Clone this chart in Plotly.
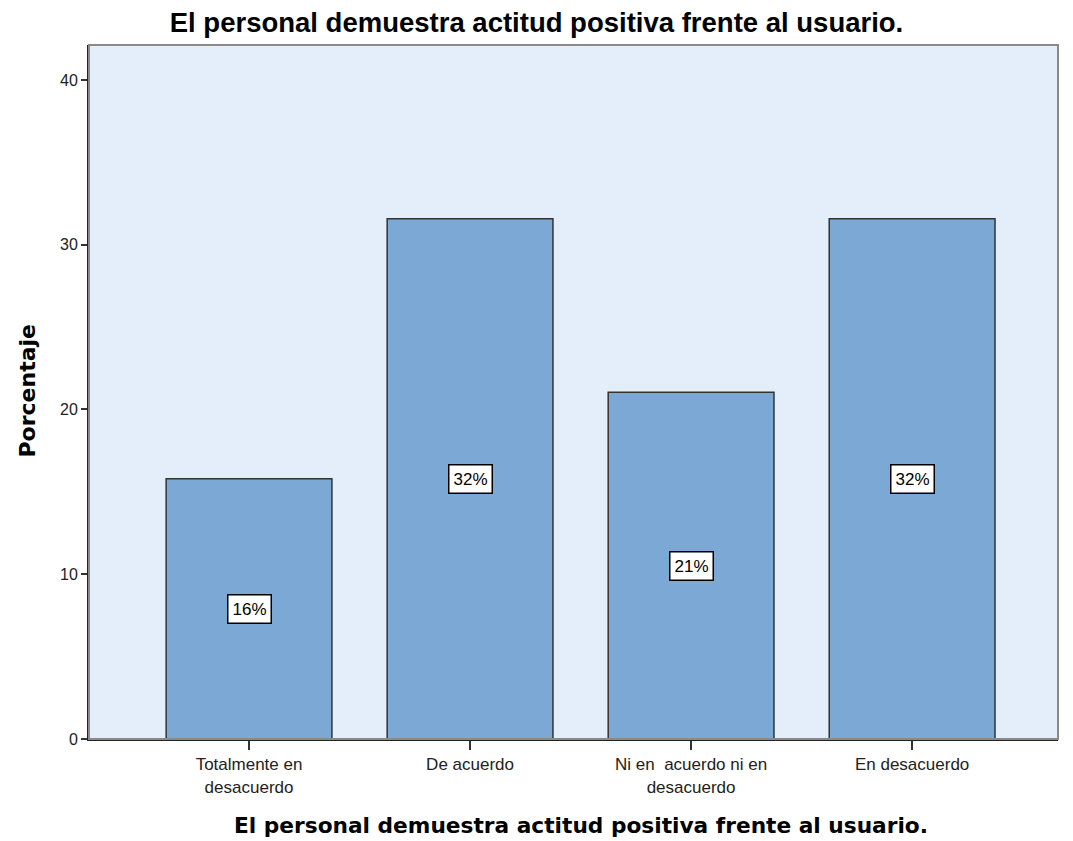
import plotly.graph_objects as go

# Response categories and their percentage of respondents
categories = [
    "Totalmente en<br>desacuerdo",
    "De acuerdo",
    "Ni en  acuerdo ni en<br>desacuerdo",
    "En desacuerdo",
]
percentages = [15.79, 31.58, 21.05, 31.58]
value_labels = ["16%", "32%", "21%", "32%"]
y_ticks = [0, 10, 20, 30, 40]

title_text = "El personal demuestra actitud positiva frente al usuario."

fig = go.Figure()
fig.add_trace(go.Bar(
    x=list(range(len(categories))),
    y=percentages,
    width=0.75,
    marker=dict(color="#7BA8D5", line=dict(color="#333333", width=1.5)),
    hoverinfo="skip",
))

# Boxed value labels placed at the middle of each bar
for i, (p, lab) in enumerate(zip(percentages, value_labels)):
    fig.add_annotation(
        x=i, y=p / 2, text=lab, showarrow=False,
        font=dict(family="Liberation Sans, Arial", size=17, color="black"),
        bgcolor="white", bordercolor="black", borderwidth=1.5, borderpad=4,
    )

# Axis titles
fig.add_annotation(
    xref="paper", yref="paper", x=0.508, y=-0.124, yanchor="middle",
    text="<b>" + title_text + "</b>", showarrow=False,
    font=dict(family="DejaVu Sans", size=21.7, color="black"),
)
fig.add_annotation(
    xref="paper", yref="paper", x=-0.063, y=0.502, xanchor="center", yanchor="middle",
    text="<b>Porcentaje</b>", showarrow=False, textangle=-90,
    font=dict(family="DejaVu Sans", size=22, color="black"),
)

# Light frame around the plotting area
fig.add_shape(type="rect", xref="paper", yref="paper", x0=0, x1=1, y0=0, y1=1,
              line=dict(color="#8a8a8a", width=2), layer="above")

fig.update_layout(
    width=1073, height=841,
    margin=dict(l=89, r=15, t=45, b=102),
    paper_bgcolor="white",
    plot_bgcolor="#E3EEFA",
    showlegend=False,
    title=dict(
        text="<b>" + title_text + "</b>", x=0.5, xanchor="center", y=0.973, yanchor="middle",
        font=dict(family="Liberation Sans, Arial", size=27.5, color="black"),
    ),
    font=dict(family="Liberation Sans, Arial", size=15, color="black"),
)

fig.update_xaxes(
    range=[-0.724, 3.66], automargin=False,
    tickmode="array", tickvals=list(range(len(categories))), ticktext=categories,
    ticks="outside", ticklen=9, tickwidth=1.5, tickcolor="#333333",
    showline=True, linecolor="#222222", linewidth=2,
    showgrid=False, zeroline=False,
    tickfont=dict(family="Liberation Sans, Arial", size=17, color="#222222"),
)
fig.update_yaxes(
    range=[0, 42.12], automargin=False,
    tickmode="array", tickvals=y_ticks,
    ticks="outside", ticklen=6, tickwidth=1.5, tickcolor="#333333",
    showline=True, linecolor="#222222", linewidth=2,
    showgrid=False, zeroline=False,
    tickfont=dict(family="Liberation Sans, Arial", size=16, color="#222222"),
)

fig.write_html("out.html")
